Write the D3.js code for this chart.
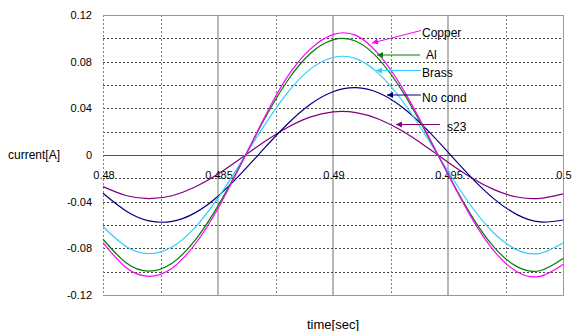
<!DOCTYPE html>
<html>
<head>
<meta charset="utf-8">
<script src="https://cdn.jsdelivr.net/npm/d3@7"></script>
<style>
  body { margin: 0; background: #fff; }
  svg text { font-family: Arial, "Liberation Sans", sans-serif; fill: #000; }
</style>
</head>
<body>
<svg id="chart" width="573" height="331"></svg>
<script>
const times = [0.480, 0.481, 0.482, 0.483, 0.484, 0.485, 0.486, 0.487, 0.488, 0.489, 0.490,
               0.491, 0.492, 0.493, 0.494, 0.495, 0.496, 0.497, 0.498, 0.499, 0.500];
const copper = [-0.0750, -0.0965, -0.1040, -0.0970, -0.0765, -0.0458, -0.0080, 0.0315, 0.0665, 0.0905, 0.1032,
                0.1025, 0.0860, 0.0580, 0.0220, -0.0165, -0.0530, -0.0822, -0.1000, -0.1040, -0.0938];
const al = [-0.0722, -0.0923, -0.0995, -0.0928, -0.0732, -0.0436, -0.0076, 0.0300, 0.0630, 0.0868, 0.0987,
            0.0975, 0.0820, 0.0552, 0.0208, -0.0164, -0.0513, -0.0790, -0.0957, -0.0992, -0.0888];
const brass = [-0.0613, -0.0784, -0.0845, -0.0788, -0.0622, -0.0368, -0.0063, 0.0250, 0.0529, 0.0734, 0.0836,
               0.0826, 0.0695, 0.0467, 0.0176, -0.0139, -0.0435, -0.0671, -0.0813, -0.0843, -0.0755];
const noCond = [-0.0328, -0.0479, -0.0564, -0.0569, -0.0496, -0.0353, -0.0160, 0.0054, 0.0261, 0.0432, 0.0542,
                0.0577, 0.0531, 0.0411, 0.0234, 0.0024, -0.0189, -0.0376, -0.0511, -0.0574, -0.0557];
const s23 = [-0.0271, -0.0347, -0.0374, -0.0349, -0.0275, -0.0163, -0.0028, 0.0111, 0.0234, 0.0325, 0.0370,
             0.0364, 0.0307, 0.0207, 0.0078, -0.0062, -0.0193, -0.0297, -0.0360, -0.0372, -0.0333];

const seriesNames = ["Copper", "Al", "Brass", "No cond", "s23"];
const xTicks = [0.48, 0.485, 0.49, 0.495, 0.5];
const xTickLabels = ["0.48", "0.485", "0.49", "0.495", "0.5"];
const xMinorGrid = [0.4825, 0.4875, 0.4925, 0.4975];
const yTicks = [-0.12, -0.08, -0.04, 0, 0.04, 0.08, 0.12];
const yTickLabels = ["-0.12", "-0.08", "-0.04", "0", "0.04", "0.08", "0.12"];
const yGrid = [-0.1, -0.08, -0.06, -0.04, -0.02, 0.02, 0.04, 0.06, 0.08, 0.1];

const colors = ["#ff00ff", "#008000", "#33ccff", "#000080", "#800080"];
// label position and arrow tip for each callout (pixels)
const callouts = [
  {tx: 422, ty: 32, x1: 421, y1: 30.5, x2: 372, y2: 43},
  {tx: 426, ty: 54, x1: 420, y1: 55, x2: 377, y2: 55},
  {tx: 422, ty: 72, x1: 421, y1: 70.5, x2: 376, y2: 70.5},
  {tx: 422, ty: 97, x1: 421, y1: 95, x2: 387, y2: 95},
  {tx: 447, ty: 126, x1: 440, y1: 124.5, x2: 396, y2: 124.5}
];

const svg = d3.select("#chart");
const plotL = 103, plotR = 563, plotT = 15, plotB = 295;

const x = d3.scaleLinear().domain([0.48, 0.5]).range([plotL, plotR]);
const y = d3.scaleLinear().domain([-0.12, 0.12]).range([plotB, plotT]);

// grid
const grid = svg.append("g");
grid.selectAll("line.hg").data(yGrid).enter().append("line")
    .attr("x1", plotL).attr("x2", plotR)
    .attr("y1", d => Math.round(y(d)) + 0.5).attr("y2", d => Math.round(y(d)) + 0.5)
    .attr("stroke", "#404040").attr("stroke-dasharray", "2,2");
grid.selectAll("line.vg").data(xMinorGrid.concat([0.48])).enter().append("line")
    .attr("x1", d => Math.round(x(d)) + 0.5).attr("x2", d => Math.round(x(d)) + 0.5)
    .attr("y1", plotT).attr("y2", plotB)
    .attr("stroke", "#808080").attr("stroke-dasharray", "2,2");
grid.selectAll("line.vm").data(xTicks.slice(1, 4)).enter().append("line")
    .attr("x1", d => x(d)).attr("x2", d => x(d))
    .attr("y1", plotT).attr("y2", plotB)
    .attr("stroke", d => d === 0.49 ? "#707070" : "#a0a0a0")
    .attr("stroke-width", d => d === 0.49 ? 1 : 1.5);

// frame
svg.append("line").attr("x1", plotL).attr("x2", plotR).attr("y1", plotT + 0.5).attr("y2", plotT + 0.5)
    .attr("stroke", "#999");
svg.append("line").attr("x1", plotL).attr("x2", plotR).attr("y1", plotB + 0.5).attr("y2", plotB + 0.5)
    .attr("stroke", "#999");
svg.append("line").attr("x1", plotR + 0.5).attr("x2", plotR + 0.5).attr("y1", plotT).attr("y2", plotB + 1)
    .attr("stroke", "#999");
svg.append("line").attr("x1", plotL).attr("x2", plotR)
    .attr("y1", Math.round(y(0)) + 0.5).attr("y2", Math.round(y(0)) + 0.5)
    .attr("stroke", "#505050");

// tick labels
svg.selectAll("text.yt").data(yTicks).enter().append("text")
    .attr("x", 92).attr("y", d => y(d) + 4)
    .attr("text-anchor", "end").attr("font-size", "11px")
    .text((d, i) => yTickLabels[i]);
svg.selectAll("text.xt").data(xTicks).enter().append("text")
    .attr("x", d => x(d) + 1).attr("y", y(0) + 24)
    .attr("text-anchor", "middle").attr("font-size", "11px")
    .text((d, i) => xTickLabels[i]);

svg.append("text").attr("x", 8).attr("y", 159).attr("font-size", "12px").text("current[A]");
svg.append("text").attr("x", 333).attr("y", 329).attr("text-anchor", "middle")
    .attr("font-size", "13px").text("time[sec]");

// curves
const allSeries = [copper, al, brass, noCond, s23];
const line = d3.line()
    .x((d, i) => x(times[i]))
    .y(d => y(d))
    .curve(d3.curveNatural);

const plot = svg.append("g");
// draw the smaller amplitudes first so copper sits on top
plot.selectAll("path").data(allSeries.map((s, i) => ({s, i})).reverse()).enter().append("path")
    .attr("d", d => line(d.s))
    .attr("fill", "none")
    .attr("stroke", d => colors[d.i])
    .attr("stroke-width", 1.2);

// callouts with arrows
const defs = svg.append("defs");
colors.forEach((c, i) => {
  defs.append("marker")
      .attr("id", "arr" + i)
      .attr("viewBox", "0 0 10 10").attr("refX", 10).attr("refY", 5)
      .attr("markerWidth", 7).attr("markerHeight", 6)
      .attr("markerUnits", "userSpaceOnUse")
      .attr("orient", "auto")
    .append("path").attr("d", "M0,0L10,5L0,10z").attr("fill", c);
});

const notes = svg.append("g");
callouts.forEach((c, i) => {
  notes.append("line")
      .attr("x1", c.x1).attr("y1", c.y1).attr("x2", c.x2).attr("y2", c.y2)
      .attr("stroke", colors[i]).attr("stroke-width", 1)
      .attr("marker-end", "url(#arr" + i + ")");
  notes.append("text")
      .attr("x", c.tx).attr("y", c.ty + 4.5)
      .attr("font-size", "12px")
      .text(seriesNames[i]);
});
</script>
</body>
</html>
